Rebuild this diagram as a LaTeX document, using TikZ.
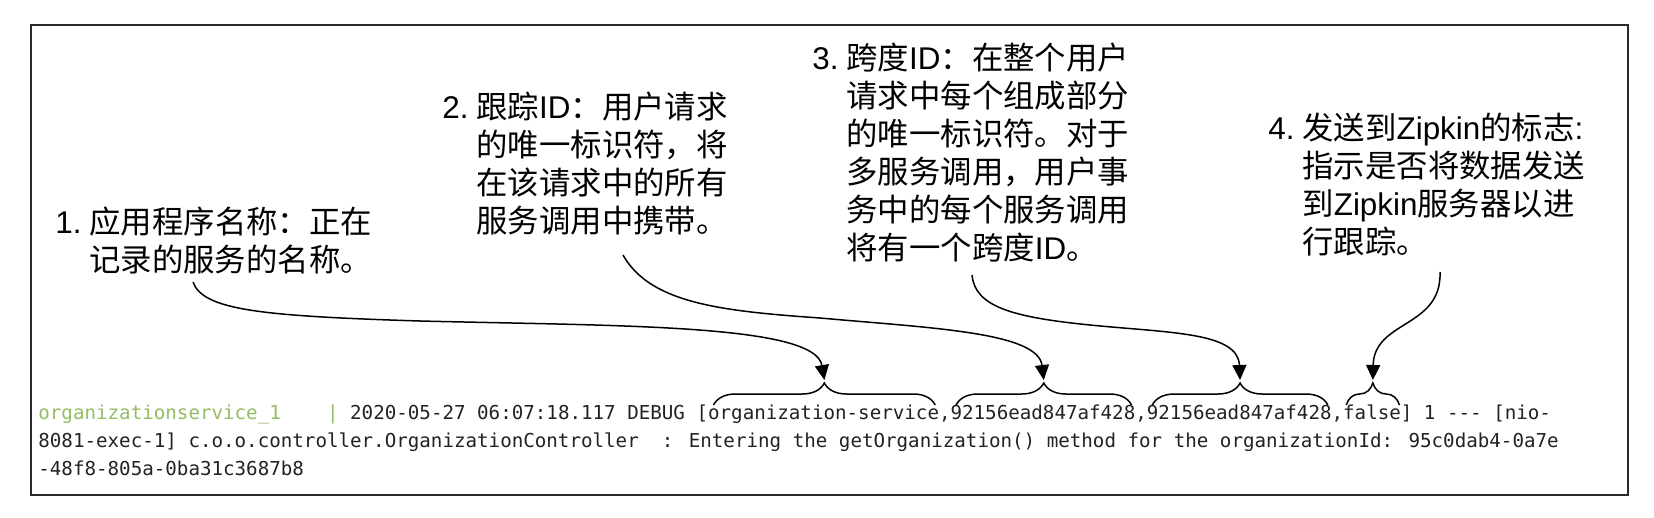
\documentclass[tikz,border=0pt]{standalone}
\usepackage{fontspec}
\setmainfont{Liberation Sans}
\newfontfamily\cjk{Noto Sans CJK SC}
\newfontfamily\latf{Liberation Sans}
\newfontfamily\logfont{DejaVu Sans Mono}[WordSpace={1,0,0}]
\usetikzlibrary{arrows.meta,decorations.pathreplacing,calc}
\definecolor{logg}{HTML}{96BC62}
\definecolor{logk}{HTML}{222222}
\definecolor{framec}{HTML}{2A2A2A}
\newlength\cw
\setlength{\cw}{5.7736pt}
\begin{document}
\begin{tikzpicture}[x=0.5pt,y=-0.5pt,
  lbl/.style={inner sep=0pt, anchor=base west, font=\cjk\fontsize{15.7}{19}\selectfont},
  logtxt/.style={inner sep=0pt, anchor=base west, text=logk, font=\logfont\fontsize{9.59}{14}\selectfont},
  framebox/.style={draw=framec, line width=1.2pt},
  bracedec/.style={draw=black, line width=0.75pt, decorate, decoration={brace, amplitude=11pt}},
  conn/.style={draw=black, line width=0.75pt, -{Triangle[length=7.5pt,width=7pt]}}
]
\useasboundingbox (0,0) rectangle (1654,518);
% frame
\draw[framebox] (31,25) rectangle (1628,495);

% labels
\node[lbl] (l1) at (55,234) {\begin{tabular}[t]{@{}p{17pt}@{}l@{}}{\latf 1.} & 应用程序名称：正在\\ & 记录的服务的名称。\end{tabular}};
\node[lbl] (l2) at (442,119) {\begin{tabular}[t]{@{}p{17pt}@{}l@{}}{\latf 2.} & 跟踪{\latf ID}：用户请求\\ & 的唯一标识符，将\\ & 在该请求中的所有\\ & 服务调用中携带。\end{tabular}};
\node[lbl] (l3) at (812,70) {\begin{tabular}[t]{@{}p{17pt}@{}l@{}}{\latf 3.} & 跨度{\latf ID}：在整个用户\\ & 请求中每个组成部分\\ & 的唯一标识符。对于\\ & 多服务调用，用户事\\ & 务中的每个服务调用\\ & 将有一个跨度{\latf ID}。\end{tabular}};
\node[lbl] (l4) at (1268,140) {\begin{tabular}[t]{@{}p{17pt}@{}l@{}}{\latf 4.} & 发送到{\latf Zipkin}的标志{\latf :}\\ & 指示是否将数据发送\\ & 到{\latf Zipkin}服务器以进\\ & 行跟踪。\end{tabular}};

% log lines
\node[logtxt] (log1) at (38,419) {\textcolor{logg}{organizationservice\_1\ \ \ \ |}\ 2020-05-27 06:07:18.117 DEBUG [organization-service,92156ead847af428,92156ead847af428,false] 1 -{}-{}- [nio-};
\node[logtxt] (log2) at (38,447) {8081-exec-1] c.o.o.controller.OrganizationController\ \ : Entering the getOrganization() method for the organizationId: 95c0dab4-0a7e};
\node[logtxt] (log3) at (38,475) {-48f8-805a-0ba31c3687b8};

% brace ends
\coordinate (b1l) at ($(log1.base west)+(58.5*\cw,7pt)$);
\coordinate (b1r) at ($(log1.base west)+(77.7*\cw,7pt)$);
\coordinate (b2l) at ($(log1.base west)+(79.5*\cw,7pt)$);
\coordinate (b2r) at ($(log1.base west)+(94.7*\cw,7pt)$);
\coordinate (b3l) at ($(log1.base west)+(96.5*\cw,7pt)$);
\coordinate (b3r) at ($(log1.base west)+(111.7*\cw,7pt)$);
\coordinate (b4l) at ($(log1.base west)+(113.3*\cw,7pt)$);
\coordinate (b4r) at ($(log1.base west)+(117.9*\cw,7pt)$);
\draw[bracedec] (b1l) -- (b1r);
\draw[bracedec] (b2l) -- (b2r);
\draw[bracedec] (b3l) -- (b3r);
\draw[bracedec] (b4l) -- (b4r);

% arrow ends
\coordinate (a1) at ($(b1l)!0.5!(b1r)+(0pt,12.5pt)$);
\coordinate (a2) at ($(b2l)!0.5!(b2r)+(0pt,12.5pt)$);
\coordinate (a3) at ($(b3l)!0.5!(b3r)+(0pt,12.5pt)$);
\coordinate (a4) at ($(b4l)!0.5!(b4r)+(0pt,12.5pt)$);

% connector starts
\coordinate (s1) at (193,282);
\coordinate (s2) at (623,255);
\coordinate (s3) at (972,275);
\coordinate (s4) at (1440,272);

\draw[conn] (s1) .. controls (203,310) and (260,316) .. (420,321) .. controls (620,326) and (815,324) .. (a1);
\draw[conn] (s2) .. controls (650,303) and (720,311) .. (820,318) .. controls (930,328) and (1038,332) .. (a2);
\draw[conn] (s3) .. controls (975,306) and (1010,317) .. (1090,325) .. controls (1170,333) and (1238,332) .. (a3);
\draw[conn] (s4) .. controls (1442,328) and (1374,320) .. (a4);
\end{tikzpicture}
\end{document}
